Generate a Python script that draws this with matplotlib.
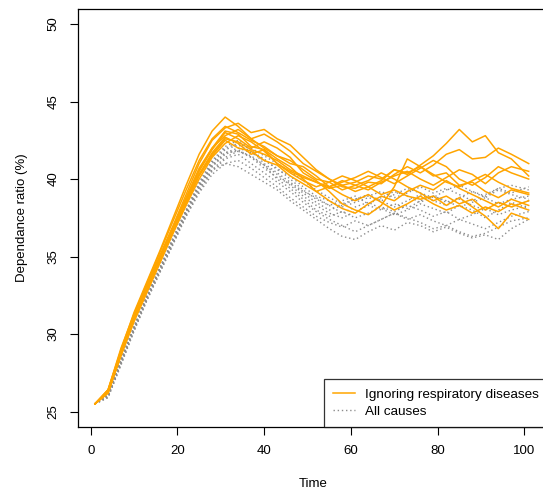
import matplotlib
matplotlib.use("Agg")
import matplotlib.pyplot as plt

plt.rcParams["font.family"] = ["Liberation Sans", "DejaVu Sans"]

# time points sampled from the simulation runs
time = [1, 4, 7, 10, 13, 16, 19, 22, 25, 28, 31, 34, 37, 40, 43, 46, 49,
        52, 55, 58, 61, 64, 67, 70, 73, 76, 79, 82, 85, 88, 91, 94, 97, 101]

# dependance ratio (%) ignoring respiratory diseases, one list per run
resp_runs = [
    [25.5, 26.4, 29.0, 31.4, 33.4, 35.4, 37.5, 39.6, 41.6, 43.1, 44.0, 43.4, 42.6, 42.9, 42.4, 41.8, 41.0,
     40.5, 40.0, 39.6, 39.8, 40.2, 40.0, 40.6, 40.3, 40.9, 41.5, 42.3, 43.2, 42.4, 42.8, 41.7, 41.3, 40.2],
    [25.5, 26.3, 28.9, 31.2, 33.2, 35.1, 37.0, 39.0, 41.0, 42.5, 43.3, 43.6, 43.0, 43.2, 42.6, 42.2, 41.4,
     40.6, 40.0, 39.5, 39.4, 39.8, 39.7, 40.3, 40.8, 40.4, 40.9, 41.6, 41.9, 41.3, 41.4, 42.0, 41.6, 41.0],
    [25.5, 26.2, 28.7, 30.9, 32.9, 34.8, 36.8, 38.7, 40.5, 41.9, 43.0, 42.6, 42.0, 42.4, 42.0, 41.4, 40.4,
     39.9, 39.2, 38.4, 38.0, 37.7, 38.3, 39.5, 41.3, 40.8, 40.2, 40.4, 39.6, 39.8, 39.2, 38.8, 39.3, 39.0],
    [25.5, 26.3, 28.8, 31.0, 32.8, 34.7, 36.6, 38.5, 40.3, 41.6, 42.6, 42.4, 41.9, 41.6, 41.2, 40.6, 40.2,
     39.8, 39.4, 39.6, 39.2, 39.5, 39.0, 39.3, 38.9, 38.7, 38.9, 38.3, 38.8, 38.2, 37.6, 36.8, 37.8, 37.4],
    [25.5, 26.4, 28.9, 31.1, 33.1, 35.0, 36.9, 38.8, 40.7, 42.0, 42.8, 43.2, 42.6, 42.0, 41.5, 41.0, 40.8,
     40.2, 39.5, 39.9, 39.6, 39.3, 39.8, 40.2, 40.5, 40.0, 39.6, 40.1, 40.6, 40.3, 39.7, 40.4, 40.8, 40.5],
    [25.5, 26.2, 28.6, 30.8, 32.7, 34.6, 36.5, 38.3, 40.0, 41.4, 42.3, 42.8, 42.4, 41.8, 41.0, 40.4, 39.9,
     39.5, 39.8, 39.3, 39.6, 39.9, 40.4, 40.0, 39.5, 39.1, 38.6, 38.9, 38.4, 38.7, 38.0, 38.5, 38.2, 38.6],
    [25.5, 26.3, 28.7, 31.0, 32.9, 34.9, 36.8, 38.6, 40.3, 41.7, 42.7, 42.3, 41.6, 41.9, 41.3, 40.8, 40.0,
     39.2, 38.6, 38.1, 37.8, 38.4, 38.9, 38.6, 39.2, 39.6, 39.3, 39.9, 39.4, 39.0, 38.6, 38.2, 38.7, 38.3],
    [25.5, 26.4, 29.1, 31.3, 33.3, 35.3, 37.3, 39.3, 41.2, 42.6, 43.4, 43.0, 42.5, 42.1, 41.5, 41.2, 40.6,
     40.0, 39.8, 40.2, 39.9, 39.5, 39.9, 40.6, 40.4, 40.8, 40.3, 39.8, 39.5, 39.9, 40.3, 39.8, 39.4, 39.1],
    [25.5, 26.2, 28.7, 30.9, 32.8, 34.7, 36.6, 38.4, 40.2, 41.5, 42.5, 42.0, 41.8, 41.2, 40.9, 40.2, 39.7,
     39.2, 39.5, 39.0, 38.6, 39.0, 38.5, 38.0, 38.4, 38.9, 38.4, 38.0, 38.3, 37.8, 38.2, 37.9, 38.4, 38.0],
    [25.5, 26.3, 28.8, 31.1, 33.0, 35.0, 36.9, 38.7, 40.6, 42.0, 43.1, 42.9, 42.1, 41.9, 41.0, 40.5, 40.1,
     39.8, 39.5, 39.8, 40.1, 40.5, 40.1, 39.7, 40.2, 40.7, 41.2, 40.8, 40.0, 39.6, 40.1, 40.8, 40.4, 40.0],
]

# dependance ratio (%) with all causes of death
all_runs = [
    [25.5, 26.0, 28.2, 30.4, 32.4, 34.2, 36.0, 37.9, 39.6, 41.0, 41.9, 42.2, 41.8, 41.3, 40.6, 40.2, 39.5,
     38.9, 38.6, 38.2, 38.5, 38.8, 38.6, 39.0, 39.4, 39.1, 38.8, 39.3, 39.6, 39.2, 38.9, 39.4, 39.6, 39.3],
    [25.5, 25.9, 28.0, 30.2, 32.2, 34.0, 35.8, 37.6, 39.2, 40.5, 41.3, 41.6, 41.0, 40.4, 39.8, 39.2, 38.5,
     37.9, 37.4, 37.0, 36.6, 37.0, 37.4, 37.8, 37.5, 37.2, 36.8, 37.0, 36.6, 36.3, 36.5, 36.9, 37.3, 37.5],
    [25.5, 26.0, 28.2, 30.3, 32.3, 34.1, 35.9, 37.8, 39.4, 40.6, 41.0, 40.8, 40.3, 39.8, 39.3, 38.6, 38.0,
     37.4, 36.8, 36.3, 36.1, 36.6, 37.0, 36.7, 37.2, 37.0, 36.6, 36.9, 36.5, 36.2, 36.4, 36.1, 36.8, 37.4],
    [25.5, 26.1, 28.4, 30.5, 32.5, 34.3, 36.2, 38.0, 39.7, 41.1, 42.0, 42.3, 41.9, 41.0, 40.4, 39.8, 39.2,
     38.8, 38.3, 38.6, 38.9, 38.4, 38.8, 39.2, 38.9, 38.5, 38.9, 38.6, 38.2, 38.5, 38.8, 38.4, 38.7, 38.9],
    [25.5, 26.0, 28.3, 30.4, 32.4, 34.2, 36.1, 37.9, 39.5, 40.8, 41.6, 41.9, 41.4, 40.9, 40.0, 39.4, 38.7,
     38.0, 37.6, 37.9, 37.5, 37.8, 38.2, 37.9, 38.3, 38.0, 37.6, 37.9, 37.4, 37.7, 38.1, 37.7, 38.0, 38.3],
    [25.5, 26.0, 28.1, 30.3, 32.3, 34.1, 35.9, 37.7, 39.3, 40.6, 41.4, 41.8, 41.5, 40.9, 40.3, 39.6, 38.9,
     38.3, 37.8, 37.5, 37.9, 38.3, 38.0, 38.4, 38.1, 38.6, 38.9, 38.5, 38.8, 39.2, 38.8, 39.3, 39.0, 38.7],
    [25.5, 26.1, 28.3, 30.4, 32.4, 34.3, 36.1, 37.9, 39.6, 40.9, 41.7, 42.0, 41.7, 41.2, 40.7, 40.0, 39.3,
     38.7, 38.3, 37.8, 38.2, 38.5, 38.1, 37.7, 38.0, 38.4, 38.1, 37.8, 38.3, 38.0, 37.5, 38.0, 38.5, 38.1],
    [25.5, 25.9, 28.1, 30.2, 32.2, 34.0, 35.8, 37.6, 39.1, 40.3, 41.0, 41.2, 40.7, 40.1, 39.5, 38.8, 38.2,
     37.6, 37.2, 36.9, 37.3, 37.0, 37.4, 37.8, 37.4, 37.7, 37.3, 37.0, 37.4, 37.1, 36.8, 37.2, 37.6, 37.9],
    [25.5, 26.0, 28.2, 30.4, 32.4, 34.2, 36.0, 37.8, 39.5, 40.8, 41.7, 41.8, 41.4, 40.7, 40.1, 39.7, 39.1,
     38.5, 38.0, 38.3, 38.7, 39.0, 38.6, 38.2, 38.6, 39.0, 38.6, 38.3, 38.7, 38.3, 38.0, 38.5, 38.2, 38.6],
    [25.5, 26.1, 28.3, 30.5, 32.5, 34.3, 36.2, 38.0, 39.8, 41.2, 42.1, 42.5, 42.0, 41.5, 41.0, 40.5, 39.9,
     39.3, 38.8, 38.4, 38.7, 38.9, 39.2, 38.8, 39.1, 39.5, 39.1, 39.4, 39.0, 38.6, 39.0, 39.4, 39.1, 39.5],
]

x_ticks = [0, 20, 40, 60, 80, 100]
y_ticks = [25, 30, 35, 40, 45, 50]

fig = plt.figure(figsize=(5.43, 4.94), dpi=100)
# right edge of the box sits just outside the picture, as in the original
ax = fig.add_axes([0.1431, 0.1356, 0.8665, 0.847])

for run in all_runs:
    ax.plot(time, run, color="#8c8c8c", linewidth=1.0, linestyle=(0, (1, 2)))
for run in resp_runs:
    ax.plot(time, run, color="#ffa500", linewidth=1.1)

ax.set_xlim(-3, 105.5)
ax.set_ylim(24, 51)
ax.set_xticks(x_ticks)
ax.set_yticks(y_ticks)
ax.set_yticklabels([str(v) for v in y_ticks], rotation=90, va="center")
ax.tick_params(direction="out", length=6, width=0.8, labelsize=9.5, pad=7)
for spine in ax.spines.values():
    spine.set_linewidth(0.9)

ax.set_xlabel("Time", fontsize=9.5, labelpad=15)
ax.set_ylabel("Dependance ratio (%)", fontsize=9.5, labelpad=14)

handles = [
    plt.Line2D([], [], color="#ffa500", linewidth=1.1),
    plt.Line2D([], [], color="#8c8c8c", linewidth=1.0, linestyle=(0, (1, 2))),
]
leg = ax.legend(handles, ["Ignoring respiratory diseases", "All causes"], loc="lower right",
                fontsize=9.7, frameon=True, fancybox=False, borderaxespad=0,
                handlelength=1.6, handletextpad=0.75, labelspacing=0.3, borderpad=0.7)
leg.get_frame().set_edgecolor("black")
leg.get_frame().set_linewidth(0.9)

fig.savefig("out.png", dpi=100)
